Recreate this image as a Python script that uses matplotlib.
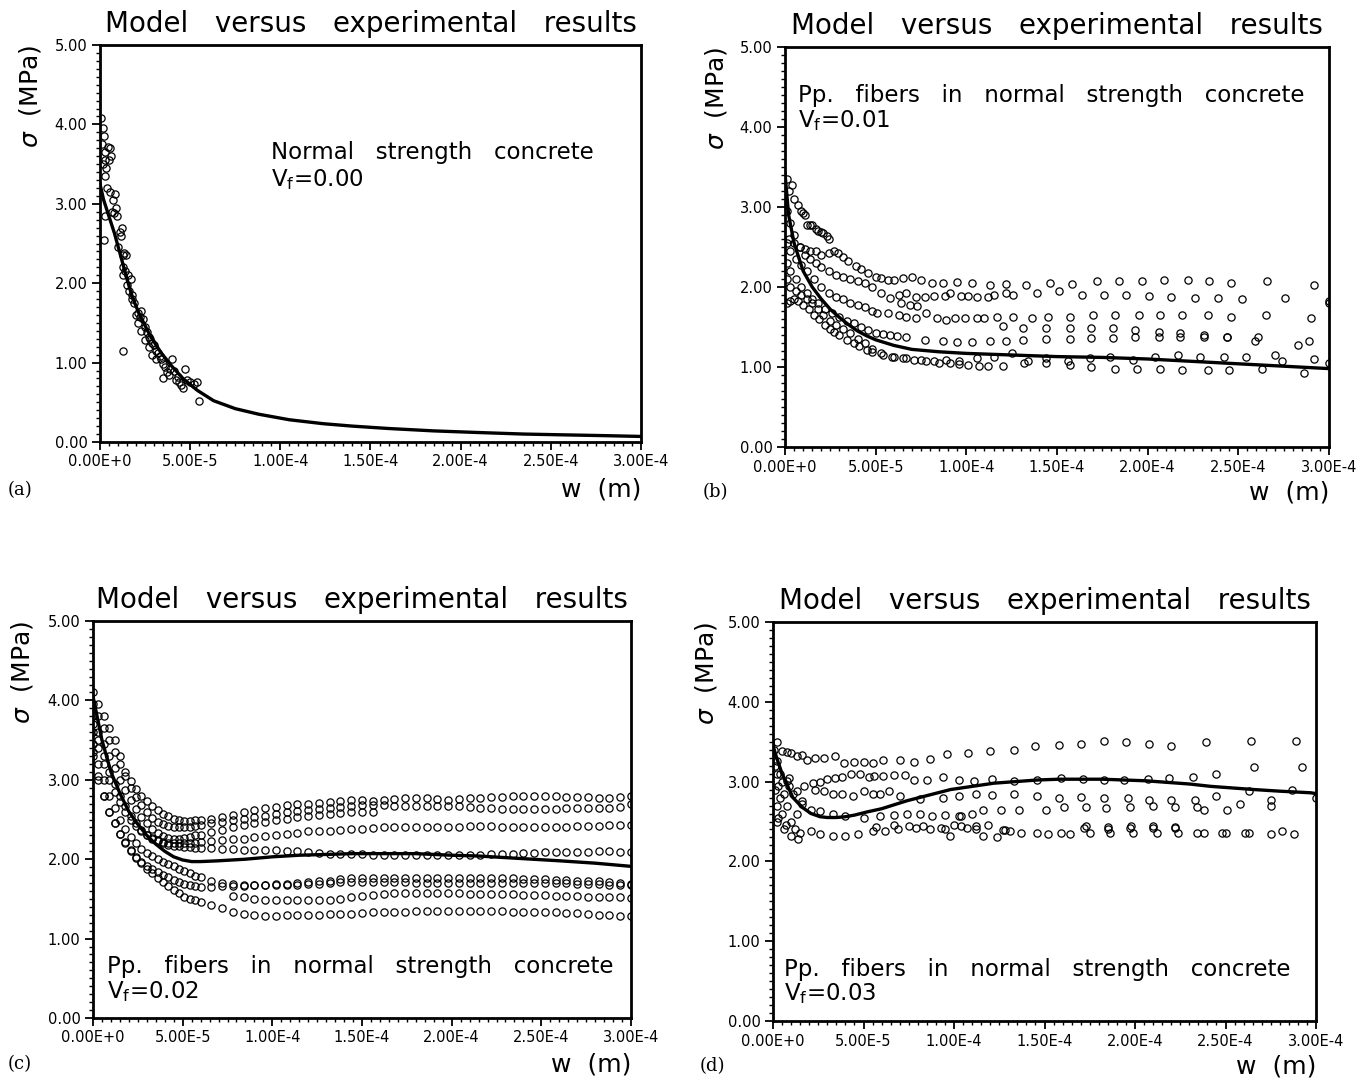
import numpy as np
import matplotlib
matplotlib.use('Agg')
import matplotlib.pyplot as plt
from matplotlib.ticker import MultipleLocator

plt.rcParams['font.family'] = ['DejaVu Sans']

# ---------------- data (w in micrometres, sigma in MPa) ----------------
X_TICKS = [0, 5e-5, 1e-4, 1.5e-4, 2e-4, 2.5e-4, 3e-4]
X_TICK_LABELS = ['0.00E+0', '5.00E-5', '1.00E-4', '1.50E-4', '2.00E-4', '2.50E-4', '3.00E-4']
Y_TICKS = [0, 1, 2, 3, 4, 5]
Y_TICK_LABELS = ['0.00', '1.00', '2.00', '3.00', '4.00', '5.00']

# (a) Vf = 0.00
model_a_w = [0, 2, 5, 8, 12.6, 15, 18, 22, 28, 34, 40, 46, 54, 63, 75, 88, 105, 124, 140, 160, 185, 209, 235, 257, 280, 300]
model_a_s = [3.25, 3.05, 2.84, 2.63, 2.25, 2.05, 1.82, 1.6, 1.33, 1.12, 0.95, 0.8, 0.65, 0.52, 0.42, 0.35, 0.28, 0.23,
             0.2, 0.17, 0.14, 0.12, 0.1, 0.09, 0.08, 0.07]
exp_a_w = [0.5, 1.5, 2, 1, 2.5, 3, 4.5, 5.5, 5, 6, 3.5, 2.5, 1.5, 4, 5.5, 7, 8.5, 9, 6.5, 7.5,
           3, 2, 9.5, 11, 12, 11.5, 10, 12.5, 13.5, 14.5, 12.5, 14, 15.5, 17, 13, 15, 16, 17.5, 19, 18,
           20, 21, 22, 23, 21, 24, 25, 23, 26, 27, 25, 28, 29, 27, 30, 31, 29, 32, 33, 34,
           31, 35, 36, 37, 35, 38, 39, 40, 41, 42, 43, 44, 45, 46, 47, 48, 50, 52, 54, 55, 12.6]
exp_a_s = [4.08, 3.95, 3.85, 3.75, 3.65, 3.55, 3.72, 3.7, 3.55, 3.6, 3.45, 3.35, 3.5, 3.2, 3.15, 3.05, 3.12, 2.95, 2.9, 2.88,
           2.85, 2.55, 2.85, 2.65, 2.7, 2.6, 2.45, 2.35, 2.38, 2.35, 2.2, 2.15, 2.1, 2.05, 2.1, 1.98, 1.9, 1.85, 1.75, 1.8,
           1.6, 1.62, 1.58, 1.65, 1.5, 1.55, 1.45, 1.4, 1.38, 1.32, 1.28, 1.3, 1.25, 1.2, 1.22, 1.15, 1.1, 1.12, 1.08, 1.05,
           1.05, 0.98, 0.95, 0.88, 0.8, 0.85, 0.92, 1.05, 0.9, 0.78, 0.82, 0.75, 0.72, 0.68, 0.92, 0.78, 0.75, 0.73, 0.76, 0.52, 1.14]

# (b) Vf = 0.01
model_b_w = [0, 2, 5, 10, 15, 20, 25, 30, 35, 40, 45, 50, 60, 70, 85, 100, 125, 150, 175, 200, 225, 250, 275, 300]
model_b_s = [3.42, 2.9, 2.55, 2.2, 2.0, 1.85, 1.72, 1.62, 1.53, 1.45, 1.39, 1.34, 1.27, 1.22, 1.19, 1.17, 1.15, 1.13,
             1.12, 1.1, 1.07, 1.04, 1.01, 0.98]
b1_w = [1, 2, 4, 5, 7, 9, 10, 11, 12, 14, 15, 17, 18, 20, 21, 23, 24]
b1_s = [3.35, 3.2, 3.28, 3.1, 3.02, 2.95, 2.93, 2.9, 2.78, 2.78, 2.77, 2.72, 2.7, 2.69, 2.68, 2.64, 2.6]
b2_w = [2, 5, 8, 11, 14, 17, 20, 24, 27, 29, 32, 35, 39, 42, 46, 50, 53, 57, 60, 65, 70, 75, 81, 87, 95,
        103, 113, 122, 133, 146, 158, 172, 184, 197, 209, 222, 234, 246, 266, 292]
b2_s = [2.6, 2.55, 2.5, 2.47, 2.45, 2.45, 2.4, 2.43, 2.45, 2.43, 2.38, 2.32, 2.26, 2.22, 2.18, 2.13, 2.11, 2.09, 2.09, 2.11,
        2.13, 2.09, 2.05, 2.05, 2.06, 2.05, 2.03, 2.04, 2.02, 2.05, 2.04, 2.07, 2.08, 2.08, 2.09, 2.09, 2.07, 2.05, 2.07, 2.02]
b3_w = [1, 3, 5, 8, 11, 14, 17, 20, 24, 28, 32, 36, 40, 44, 48, 53, 58, 63, 67, 72, 77, 82, 88, 91, 97, 101,
        106, 112, 115, 122, 126, 139, 151, 164, 176, 188, 201, 213, 226, 239, 252, 276, 300]
b3_s = [2.95, 2.8, 2.65, 2.5, 2.4, 2.35, 2.3, 2.25, 2.2, 2.15, 2.13, 2.1, 2.08, 2.05, 2.0, 1.92, 1.86, 1.9, 1.92, 1.88,
        1.88, 1.89, 1.89, 1.92, 1.89, 1.89, 1.88, 1.88, 1.9, 1.92, 1.9, 1.92, 1.95, 1.9, 1.9, 1.9, 1.89, 1.88, 1.86, 1.86,
        1.85, 1.86, 1.82]
b4_w = [1, 3, 6, 9, 12, 16, 20, 24, 28, 32, 36, 40, 44, 48, 51, 57, 63, 64, 67, 69, 72, 73, 78, 84, 89, 94, 99, 106,
        110, 117, 126, 136, 145, 157, 170, 182, 195, 207, 219, 233, 246, 265, 290]
b4_s = [2.55, 2.45, 2.35, 2.28, 2.2, 2.1, 2.0, 1.92, 1.88, 1.85, 1.8, 1.77, 1.75, 1.7, 1.67, 1.67, 1.65, 1.8, 1.63, 1.78,
        1.61, 1.76, 1.67, 1.61, 1.59, 1.61, 1.61, 1.61, 1.61, 1.63, 1.63, 1.61, 1.63, 1.63, 1.65, 1.65, 1.65, 1.65, 1.65,
        1.65, 1.63, 1.65, 1.61]
b5_w = [1, 3, 6, 9, 12, 15, 18, 22, 26, 30, 34, 38, 42, 46, 50, 54, 58, 62, 67, 77, 87, 95, 103, 113, 122, 131,
        144, 157, 169, 181, 193, 206, 218, 231, 244, 261, 283, 289]
b5_s = [2.3, 2.2, 2.1, 2.0, 1.92, 1.85, 1.8, 1.72, 1.68, 1.62, 1.58, 1.55, 1.5, 1.46, 1.43, 1.41, 1.4, 1.39, 1.38, 1.34,
        1.32, 1.31, 1.31, 1.32, 1.33, 1.34, 1.35, 1.35, 1.36, 1.36, 1.37, 1.38, 1.38, 1.38, 1.38, 1.38, 1.28, 1.32]
b6_w = [120, 131, 144, 157, 169, 181, 193, 206, 218, 231, 244, 259]
b6_s = [1.51, 1.49, 1.49, 1.49, 1.49, 1.49, 1.46, 1.44, 1.42, 1.4, 1.38, 1.32]
b7_w = [1, 3, 6, 9, 12, 15, 18, 21, 25, 28, 32, 36, 40, 44, 48, 53, 60, 67, 75, 82, 89, 96, 106, 115, 125,
        134, 144, 156, 168, 179, 192, 204, 217, 229, 242, 254, 270, 274, 292, 300]
b7_s = [2.1, 2.0, 1.95, 1.9, 1.85, 1.8, 1.72, 1.65, 1.58, 1.52, 1.47, 1.42, 1.35, 1.3, 1.22, 1.17, 1.13, 1.11, 1.09,
        1.07, 1.09, 1.07, 1.11, 1.13, 1.17, 1.07, 1.11, 1.07, 1.11, 1.13, 1.09, 1.13, 1.15, 1.13, 1.13, 1.12, 1.15, 1.07,
        1.1, 1.05]
b8_w = [1, 3, 5, 7, 10, 13, 16, 19, 22, 25, 27, 30, 34, 38, 41, 45, 48, 54, 59, 65, 71, 78, 85, 91, 96, 101, 107,
        112, 120, 132, 144, 157, 169, 182, 194, 207, 219, 233, 245, 263, 286, 300]
b8_s = [1.8, 1.82, 1.85, 1.83, 1.78, 1.72, 1.65, 1.6, 1.52, 1.47, 1.44, 1.4, 1.34, 1.3, 1.26, 1.21, 1.19, 1.15, 1.13,
        1.11, 1.09, 1.07, 1.05, 1.05, 1.04, 1.03, 1.01, 1.01, 1.01, 1.05, 1.05, 1.03, 1.0, 0.98, 0.98, 0.97, 0.96, 0.96,
        0.96, 0.97, 0.92, 1.8]

# (c) Vf = 0.02 -- dense records on a common w grid
w_c = [0, 3, 6, 9, 12, 15, 18, 21, 24, 27, 30, 33, 36, 39, 42, 45, 48, 51, 54, 57,
       60, 66, 72, 78, 84, 90, 96, 102, 108, 114, 120, 126, 132, 138, 144, 150, 156, 162, 168, 174,
       180, 186, 192, 198, 204, 210, 216, 222, 228, 234, 240, 246, 252, 258, 264, 270, 276, 282, 288, 294, 300]
nan = np.nan
c1_s = [4.1, 3.95, 3.8, 3.65, 3.5, 3.3, 3.1, 2.98, 2.88, 2.8, 2.73, 2.67, 2.62, 2.57, 2.54, 2.51, 2.49, 2.48, 2.48, 2.49,
        2.5, 2.51, 2.53, 2.56, 2.59, 2.62, 2.64, 2.66, 2.68, 2.69, 2.7, 2.71, 2.72, 2.73, 2.74, 2.74, 2.73, 2.74, 2.76, 2.77,
        2.77, 2.77, 2.76, 2.75, 2.76, 2.77, 2.77, 2.78, 2.78, 2.79, 2.79, 2.79, 2.8, 2.79, 2.78, 2.78, 2.78, 2.77, 2.77, 2.78, 2.79]
c2_s = [3.95, 3.8, 3.65, 3.5, 3.35, 3.2, 3.05, 2.9, 2.78, 2.68, 2.6, 2.52, 2.47, 2.44, 2.42, 2.41, 2.4, 2.4, 2.41, 2.42,
        2.43, 2.45, 2.47, 2.49, 2.51, 2.53, 2.55, 2.57, 2.59, 2.61, 2.62, 2.63, 2.65, 2.66, 2.67, 2.68, 2.68, 2.68, 2.67, 2.67,
        2.67, 2.67, 2.67, 2.67, 2.67, 2.66, 2.65, 2.64, 2.63, 2.63, 2.63, 2.63, 2.63, 2.63, 2.64, 2.64, 2.64, 2.64, 2.65, 2.66, 2.7]
c3_s = [3.8, 3.6, 3.45, 3.3, 3.15, 3.0, 2.87, 2.75, 2.63, 2.53, 2.45, 2.38, 2.33, 2.29, 2.27, 2.26, 2.26, 2.27, 2.28, 2.3,
        2.31, 2.34, 2.37, 2.4, 2.43, 2.45, 2.47, 2.49, 2.51, 2.53, 2.55, 2.56, 2.57, 2.58, 2.59, 2.6, 2.6, nan, nan, nan,
        nan, nan, nan, nan, nan, nan, nan, nan, nan, nan, nan, nan, nan, nan, nan, nan, nan, nan, nan, nan, nan]
c4_s = [3.7, 3.5, 3.3, 3.1, 2.95, 2.8, 2.67, 2.55, 2.45, 2.37, 2.31, 2.27, 2.24, 2.22, 2.21, 2.2, 2.2, 2.2, 2.21, 2.21,
        2.22, 2.23, 2.24, 2.25, 2.26, 2.28, 2.29, 2.31, 2.32, 2.33, 2.35, 2.35, 2.36, 2.37, 2.38, 2.38, 2.39, 2.4, 2.4, 2.41,
        2.41, 2.41, 2.4, 2.4, 2.41, 2.42, 2.42, 2.42, 2.41, 2.41, 2.41, 2.4, 2.4, 2.4, 2.41, 2.42, 2.42, 2.42, 2.43, 2.43, 2.43]
c5_s = [3.6, 3.4, 3.2, 3.0, 2.85, 2.72, 2.6, 2.5, 2.42, 2.35, 2.3, 2.26, 2.23, 2.2, 2.18, 2.17, 2.16, 2.15, 2.15, 2.14,
        2.14, 2.14, 2.13, 2.13, 2.12, 2.12, 2.11, 2.11, 2.1, 2.1, 2.09, 2.08, 2.07, 2.07, 2.06, 2.06, 2.05, 2.05, 2.05, 2.05,
        2.05, 2.05, 2.05, 2.05, 2.05, 2.05, 2.05, 2.06, 2.07, 2.07, 2.08, 2.08, 2.09, 2.09, 2.09, 2.09, 2.09, 2.1, 2.1, 2.09, 2.09]
c6_s = [3.45, 3.2, 3.0, 2.8, 2.65, 2.5, 2.38, 2.28, 2.2, 2.13, 2.08, 2.04, 2.0, 1.97, 1.94, 1.91, 1.88, 1.85, 1.82, 1.79,
        1.77, 1.73, 1.7, 1.69, 1.68, 1.68, 1.68, 1.69, 1.69, 1.7, 1.71, 1.72, 1.73, 1.75, 1.76, 1.76, 1.76, 1.76, 1.76, 1.76,
        1.76, 1.76, 1.76, 1.76, 1.76, 1.76, 1.76, 1.76, 1.76, 1.76, 1.75, 1.75, 1.75, 1.74, 1.74, 1.73, 1.73, 1.72, 1.71, 1.7, 1.69]
c7_s = [3.35, 3.05, 2.8, 2.6, 2.45, 2.32, 2.2, 2.1, 2.02, 1.96, 1.92, 1.88, 1.84, 1.8, 1.77, 1.74, 1.71, 1.69, 1.67, 1.66,
        1.65, 1.65, 1.66, 1.66, 1.66, 1.67, 1.67, 1.67, 1.68, 1.68, 1.69, 1.69, 1.7, 1.71, 1.71, 1.71, 1.71, 1.71, 1.71, 1.71,
        1.7, 1.7, 1.7, 1.7, 1.7, 1.7, 1.7, 1.7, 1.7, 1.7, 1.7, 1.7, 1.7, 1.7, 1.7, 1.69, 1.69, 1.69, 1.68, 1.68, 1.67]
c8_s = [nan, nan, nan, nan, nan, nan, nan, nan, nan, nan, nan, nan, nan, nan, nan, nan, nan, nan, nan, nan,
        nan, nan, nan, 1.54, 1.52, 1.5, 1.49, 1.48, 1.48, 1.48, 1.48, 1.49, 1.49, 1.5, 1.52, 1.54, 1.55, 1.56, 1.57, 1.58,
        1.58, 1.58, 1.57, 1.57, 1.57, 1.56, 1.56, 1.56, 1.56, 1.56, 1.55, 1.55, 1.55, 1.54, 1.54, 1.54, 1.53, 1.53, 1.52, 1.52, 1.51]
c9_s = [3.3, 3.0, 2.8, 2.6, 2.45, 2.32, 2.22, 2.12, 2.03, 1.95, 1.88, 1.82, 1.76, 1.71, 1.66, 1.61, 1.57, 1.53, 1.5, 1.48,
        1.46, 1.42, 1.38, 1.34, 1.31, 1.3, 1.29, 1.29, 1.3, 1.3, 1.3, 1.3, 1.31, 1.31, 1.31, 1.32, 1.33, 1.33, 1.34, 1.34,
        1.35, 1.35, 1.35, 1.35, 1.35, 1.35, 1.35, 1.35, 1.35, 1.34, 1.34, 1.34, 1.33, 1.33, 1.32, 1.32, 1.31, 1.3, 1.3, 1.29, 1.29]
model_c_w = [0, 5, 10, 15, 20, 25, 30, 35, 40, 45, 50, 55, 60, 70, 85, 100, 115, 130, 145, 160, 180, 200, 215, 230,
             245, 260, 280, 300]
model_c_s = [4.05, 3.5, 3.1, 2.83, 2.6, 2.44, 2.3, 2.19, 2.1, 2.03, 1.99, 1.97, 1.97, 1.98, 2.0, 2.03, 2.05, 2.06, 2.07,
             2.07, 2.07, 2.05, 2.04, 2.02, 2.0, 1.98, 1.95, 1.91]

# (d) Vf = 0.03
model_d_w = [0, 2, 5, 7, 11, 16, 21, 26, 30, 35, 40, 45, 52, 60, 67, 74, 86, 98, 110, 122, 134, 146, 158, 170, 182,
             194, 206, 218, 230, 242, 254, 266, 280, 297, 300]
model_d_s = [3.45, 3.3, 3.1, 3.0, 2.8, 2.68, 2.6, 2.56, 2.55, 2.55, 2.56, 2.58, 2.62, 2.66, 2.71, 2.76, 2.83, 2.9, 2.94,
             2.98, 3.0, 3.02, 3.03, 3.03, 3.03, 3.02, 3.01, 2.99, 2.97, 2.94, 2.92, 2.9, 2.88, 2.86, 2.85]
d1_w = [2, 5, 8, 10, 13, 16, 19, 23, 28, 34, 39, 45, 50, 55, 61, 70, 78, 87, 96, 108, 120, 133, 145, 158, 170, 183,
        195, 208, 220, 239, 264, 289]
d1_s = [3.49, 3.38, 3.37, 3.36, 3.32, 3.33, 3.27, 3.29, 3.3, 3.32, 3.23, 3.24, 3.24, 3.23, 3.27, 3.27, 3.25, 3.28, 3.34,
        3.36, 3.38, 3.39, 3.44, 3.46, 3.47, 3.51, 3.5, 3.47, 3.45, 3.49, 3.51, 3.51]
d2_w = [2, 4, 8, 13, 17, 22, 26, 30, 34, 38, 43, 48, 53, 56, 61, 67, 73, 78, 85, 94, 103, 111, 121, 133, 146, 159,
        171, 183, 194, 207, 219, 232, 245, 266, 292]
d2_s = [3.26, 3.09, 3.01, 2.88, 2.95, 2.98, 3.0, 3.03, 3.05, 3.06, 3.09, 3.1, 3.06, 3.07, 3.07, 3.08, 3.08, 3.02, 3.02,
        3.06, 3.02, 3.01, 3.03, 3.01, 3.02, 3.04, 3.03, 3.02, 3.02, 3.03, 3.05, 3.06, 3.09, 3.18, 3.18]
d3_w = [9, 16, 23, 28, 33, 38, 44, 50, 55, 59, 64, 70, 81, 94, 103, 112, 121, 133, 146, 158, 170, 183, 196, 208, 220,
        233, 245, 258, 263, 275, 287, 300]
d3_s = [3.05, 2.76, 2.89, 2.88, 2.84, 2.84, 2.82, 2.88, 2.84, 2.84, 2.88, 2.82, 2.78, 2.8, 2.82, 2.84, 2.83, 2.85, 2.82,
        2.79, 2.81, 2.8, 2.79, 2.77, 2.77, 2.77, 2.82, 2.72, 2.88, 2.77, 2.9, 2.79]
d4_w = [104, 110, 116, 126, 136, 151, 161, 173, 184, 197, 210, 222, 234, 238, 251, 275]
d4_s = [2.57, 2.59, 2.64, 2.65, 2.64, 2.65, 2.68, 2.68, 2.67, 2.68, 2.69, 2.68, 2.68, 2.64, 2.65, 2.69]
d5_w = [16, 21, 26, 33, 40, 50, 59, 67, 74, 81, 88, 95, 103]
d5_s = [2.72, 2.65, 2.63, 2.59, 2.57, 2.55, 2.57, 2.58, 2.59, 2.59, 2.57, 2.58, 2.57]
d6_w = [2, 6, 10, 15, 21, 26, 33, 40, 47, 55, 62, 69, 79, 87, 95, 98, 104, 112, 116, 124, 128, 137, 146, 152, 159,
        164, 172, 175, 185, 186, 197, 199, 210, 212, 222, 224, 234, 238, 248, 250, 261, 263, 275, 281, 288]
d6_s = [2.5, 2.4, 2.32, 2.36, 2.38, 2.34, 2.32, 2.32, 2.34, 2.38, 2.38, 2.4, 2.42, 2.4, 2.4, 2.32, 2.44, 2.4, 2.32, 2.3,
        2.39, 2.36, 2.36, 2.34, 2.36, 2.34, 2.42, 2.36, 2.4, 2.36, 2.42, 2.36, 2.42, 2.36, 2.42, 2.36, 2.36, 2.36, 2.36,
        2.35, 2.36, 2.35, 2.34, 2.38, 2.34]
d7_w = [57, 67, 75, 83, 93, 100, 107, 112, 119, 127, 131, 173, 185, 198, 210, 222]
d7_s = [2.43, 2.45, 2.44, 2.44, 2.42, 2.46, 2.42, 2.44, 2.46, 2.39, 2.38, 2.44, 2.43, 2.44, 2.44, 2.43]
d8_w = [0.5, 1, 1, 2, 2, 3, 3, 4, 5, 5, 6, 7, 8, 9, 10, 11, 12, 13, 14]
d8_s = [3.4, 3.2, 2.9, 3.1, 2.7, 2.95, 2.55, 2.8, 3.0, 2.6, 2.85, 2.45, 2.7, 2.95, 2.5, 2.85, 2.4, 2.6, 2.28]

NOTE_TEXT = 'Pp.   fibers   in   normal   strength   concrete'

# ---------------- figure ----------------
fig = plt.figure(figsize=(13.7, 10.81), dpi=100)

panels = [
    # rect, ylabel x (axes), xlabel y (axes), panel letter position (fig px)
    dict(rect=[100 / 1370, 1 - 442 / 1081, 541 / 1370, 397 / 1081], ylx=-0.13, xly=-0.12, letter='(a)', lpos=(8, 490)),
    dict(rect=[785 / 1370, 1 - 447 / 1081, 544 / 1370, 400 / 1081], ylx=-0.127, xly=-0.113, letter='(b)', lpos=(703, 492)),
    dict(rect=[93 / 1370, 1 - 1018 / 1081, 538 / 1370, 397 / 1081], ylx=-0.132, xly=-0.116, letter='(c)', lpos=(8, 1064)),
    dict(rect=[773 / 1370, 1 - 1021 / 1081, 543 / 1370, 399 / 1081], ylx=-0.123, xly=-0.113, letter='(d)', lpos=(700, 1066)),
]

axes = []
for p in panels:
    ax = fig.add_axes(p['rect'])
    ax.set_xlim(0, 3e-4)
    ax.set_ylim(0, 5)
    ax.set_xticks(X_TICKS)
    ax.set_xticklabels(X_TICK_LABELS)
    ax.set_yticks(Y_TICKS)
    ax.set_yticklabels(Y_TICK_LABELS)
    ax.xaxis.set_minor_locator(MultipleLocator(5e-6))
    ax.yaxis.set_minor_locator(MultipleLocator(0.1))
    ax.tick_params(which='major', direction='out', length=6, width=1.3, labelsize=10.5, pad=3)
    ax.tick_params(which='minor', direction='out', length=3, width=1.0)
    for s in ax.spines.values():
        s.set_linewidth(2.0)
    ax.set_title('Model   versus   experimental   results', fontsize=20, pad=9)
    ax.text(p['ylx'], 1.0, r'$\sigma$  (MPa)', transform=ax.transAxes, rotation=90,
            ha='center', va='top', fontsize=18)
    ax.text(1.0, p['xly'], 'w  (m)', transform=ax.transAxes, ha='right', va='center', fontsize=18)
    fig.text(p['lpos'][0] / 1370, 1 - p['lpos'][1] / 1081, p['letter'], family='DejaVu Serif',
             fontsize=13, ha='left', va='center')
    axes.append(ax)

mk = dict(ls='none', marker='o', mfc='none', mec='black', ms=5.2, mew=0.9)
um = 1e-6

# (a)
ax = axes[0]
ax.plot(np.array(exp_a_w) * um, exp_a_s, **mk)
ax.plot(np.array(model_a_w) * um, model_a_s, color='black', lw=2.4)
ax.text(0.95e-4, 3.64, 'Normal   strength   concrete', fontsize=16.5, va='center')
ax.text(0.95e-4, 3.3, r'V$_\mathregular{f}$=0.00', fontsize=16.5, va='center')

# (b)
ax = axes[1]
for ww, ss in [(b1_w, b1_s), (b2_w, b2_s), (b3_w, b3_s), (b4_w, b4_s), (b5_w, b5_s),
               (b6_w, b6_s), (b7_w, b7_s), (b8_w, b8_s)]:
    ax.plot(np.array(ww) * um, ss, **mk)
ax.plot(np.array(model_b_w) * um, model_b_s, color='black', lw=2.4)
ax.text(0.07e-4, 4.39, NOTE_TEXT, fontsize=16.5, va='center')
ax.text(0.07e-4, 4.08, r'V$_\mathregular{f}$=0.01', fontsize=16.5, va='center')

# (c)
ax = axes[2]
for ss in [c1_s, c2_s, c3_s, c4_s, c5_s, c6_s, c7_s, c8_s, c9_s]:
    ax.plot(np.array(w_c) * um, ss, **mk)
ax.plot(np.array(model_c_w) * um, model_c_s, color='black', lw=2.4)
ax.text(0.08e-4, 0.65, NOTE_TEXT, fontsize=16.5, va='center')
ax.text(0.08e-4, 0.33, r'V$_\mathregular{f}$=0.02', fontsize=16.5, va='center')

# (d)
ax = axes[3]
for ww, ss in [(d1_w, d1_s), (d2_w, d2_s), (d3_w, d3_s), (d4_w, d4_s), (d5_w, d5_s),
               (d6_w, d6_s), (d7_w, d7_s), (d8_w, d8_s)]:
    ax.plot(np.array(ww) * um, ss, **mk)
ax.plot(np.array(model_d_w) * um, model_d_s, color='black', lw=2.4)
ax.text(0.06e-4, 0.65, NOTE_TEXT, fontsize=16.5, va='center')
ax.text(0.06e-4, 0.35, r'V$_\mathregular{f}$=0.03', fontsize=16.5, va='center')

fig.savefig('out.png', dpi=100)
